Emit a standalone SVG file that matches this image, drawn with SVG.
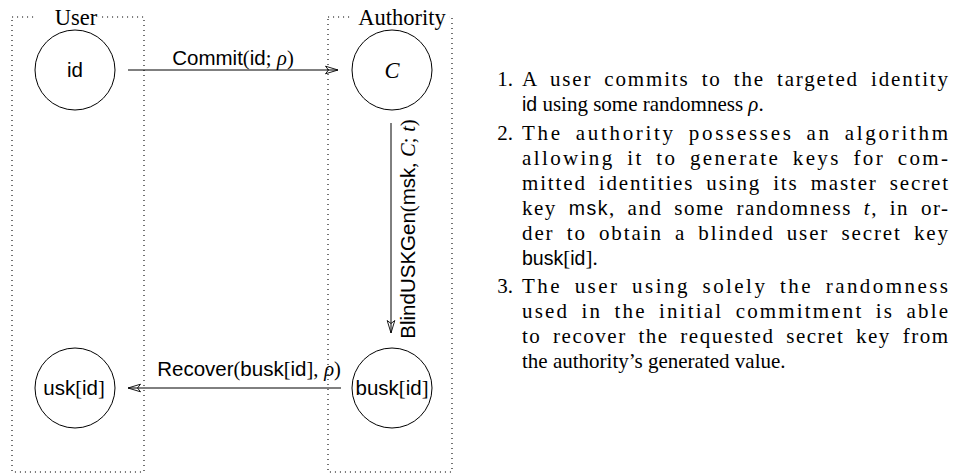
<svg xmlns="http://www.w3.org/2000/svg" width="956" height="475" viewBox="0 0 956 475">
<style>
.box{fill:none;stroke:#000;stroke-width:1.1;stroke-dasharray:1.1 3.9}
.node{fill:#fff;stroke:#000;stroke-width:1}
.sf{font-family:"Liberation Sans",Arial,sans-serif}
.rm{font-family:"Liberation Serif","Times New Roman",serif}
.it{font-family:"Liberation Serif","Times New Roman",serif;font-style:italic}
.lab{font-family:"Liberation Sans",Arial,sans-serif;font-size:20.5px;fill:#000}
.title{font-family:"Liberation Serif","Times New Roman",serif;font-size:22.5px;fill:#000;text-anchor:middle}
.edge{fill:none;stroke:#000;stroke-width:1}
.body{font-family:"Liberation Serif","Times New Roman",serif;font-size:21px;fill:#000}
.body .sf{font-size:19.5px}
.j{word-spacing:5px}
.num{text-anchor:end}
</style>
<defs>
<marker id="arr" viewBox="-15 -6 17 12" refX="0" refY="0" markerWidth="17" markerHeight="12" markerUnits="userSpaceOnUse" orient="auto">
<path d="M-12.5,-3.8 L0,0 L-12.5,3.8 L-9.5,0 Z" fill="none" stroke="#000" stroke-width="0.9" stroke-linejoin="miter"/>
</marker>
</defs>

<g id="user-box">
<rect class="box" x="12" y="17" width="132" height="455"/>
<rect x="34" y="6" width="64" height="22" fill="#fff"/>
<text class="title" x="76" y="25">User</text>
</g>
<g id="authority-box">
<rect class="box" x="328" y="17" width="124" height="455"/>
<rect x="353" y="6" width="96" height="22" fill="#fff"/>
<text class="title" x="402" y="25">Authority</text>
</g>

<g id="connectors">
<line class="edge" x1="128" y1="70" x2="338" y2="70" marker-end="url(#arr)"/>
<text class="lab" x="233" y="65" text-anchor="middle">Commit<tspan class="rm">(</tspan>id<tspan class="rm">;</tspan> <tspan class="it">ρ</tspan><tspan class="rm">)</tspan></text>
<line class="edge" x1="391" y1="123" x2="391" y2="333" marker-end="url(#arr)"/>
<text class="lab" transform="translate(415,229) rotate(-90)" x="0" y="0" text-anchor="middle">BlindUSKGen<tspan class="rm">(</tspan>msk<tspan class="rm">,</tspan> <tspan class="it">C</tspan><tspan class="rm">;</tspan> <tspan class="it">t</tspan><tspan class="rm">)</tspan></text>
<line class="edge" x1="341" y1="388" x2="128" y2="388" marker-end="url(#arr)"/>
<text class="lab" x="249" y="376" text-anchor="middle">Recover<tspan class="rm">(</tspan>busk<tspan class="rm">[</tspan>id<tspan class="rm">],</tspan> <tspan class="it">ρ</tspan><tspan class="rm">)</tspan></text>
</g>

<g id="node-id">
<circle class="node" cx="75" cy="70" r="40"/>
<text class="lab" x="75" y="77" text-anchor="middle">id</text>
</g>
<g id="node-C">
<circle class="node" cx="392" cy="70" r="40"/>
<text class="it" x="392" y="78" font-size="22.5" text-anchor="middle">C</text>
</g>
<g id="node-usk">
<circle class="node" cx="75" cy="388" r="40"/>
<text class="lab" x="74" y="395" text-anchor="middle" font-size="19.5">usk<tspan class="rm">[</tspan>id<tspan class="rm">]</tspan></text>
</g>
<g id="node-busk">
<circle class="node" cx="392" cy="388" r="40"/>
<text class="lab" x="392" y="395" text-anchor="middle" font-size="19.5">busk<tspan class="rm">[</tspan>id<tspan class="rm">]</tspan></text>
</g>

<g id="steps" class="body">
<text class="num" x="513" y="86">1.</text>
<text class="j" x="522" y="86" textLength="426" lengthAdjust="spacing">A user commits to the targeted identity</text>
<text x="522" y="111"><tspan class="sf">id</tspan> using some randomness <tspan class="it">ρ</tspan>.</text>
<text class="num" x="513" y="139.5">2.</text>
<text class="j" x="522" y="139.5" textLength="426" lengthAdjust="spacing">The authority possesses an algorithm</text>
<text class="j" x="522" y="164.5" textLength="426" lengthAdjust="spacing">allowing it to generate keys for com-</text>
<text class="j" x="522" y="189.5" textLength="426" lengthAdjust="spacing">mitted identities using its master secret</text>
<text class="j" x="522" y="214.5" textLength="426" lengthAdjust="spacing">key <tspan class="sf">msk</tspan>, and some randomness <tspan class="it">t</tspan>, in or-</text>
<text class="j" x="522" y="239.5" textLength="426" lengthAdjust="spacing">der to obtain a blinded user secret key</text>
<text x="522" y="264.5"><tspan class="sf">busk</tspan>[<tspan class="sf">id</tspan>].</text>
<text class="num" x="513" y="293">3.</text>
<text class="j" x="522" y="293" textLength="426" lengthAdjust="spacing">The user using solely the randomness</text>
<text class="j" x="522" y="318" textLength="426" lengthAdjust="spacing">used in the initial commitment is able</text>
<text class="j" x="522" y="343" textLength="426" lengthAdjust="spacing">to recover the requested secret key from</text>
<text x="522" y="368">the authority’s generated value.</text>
</g>
</svg>
